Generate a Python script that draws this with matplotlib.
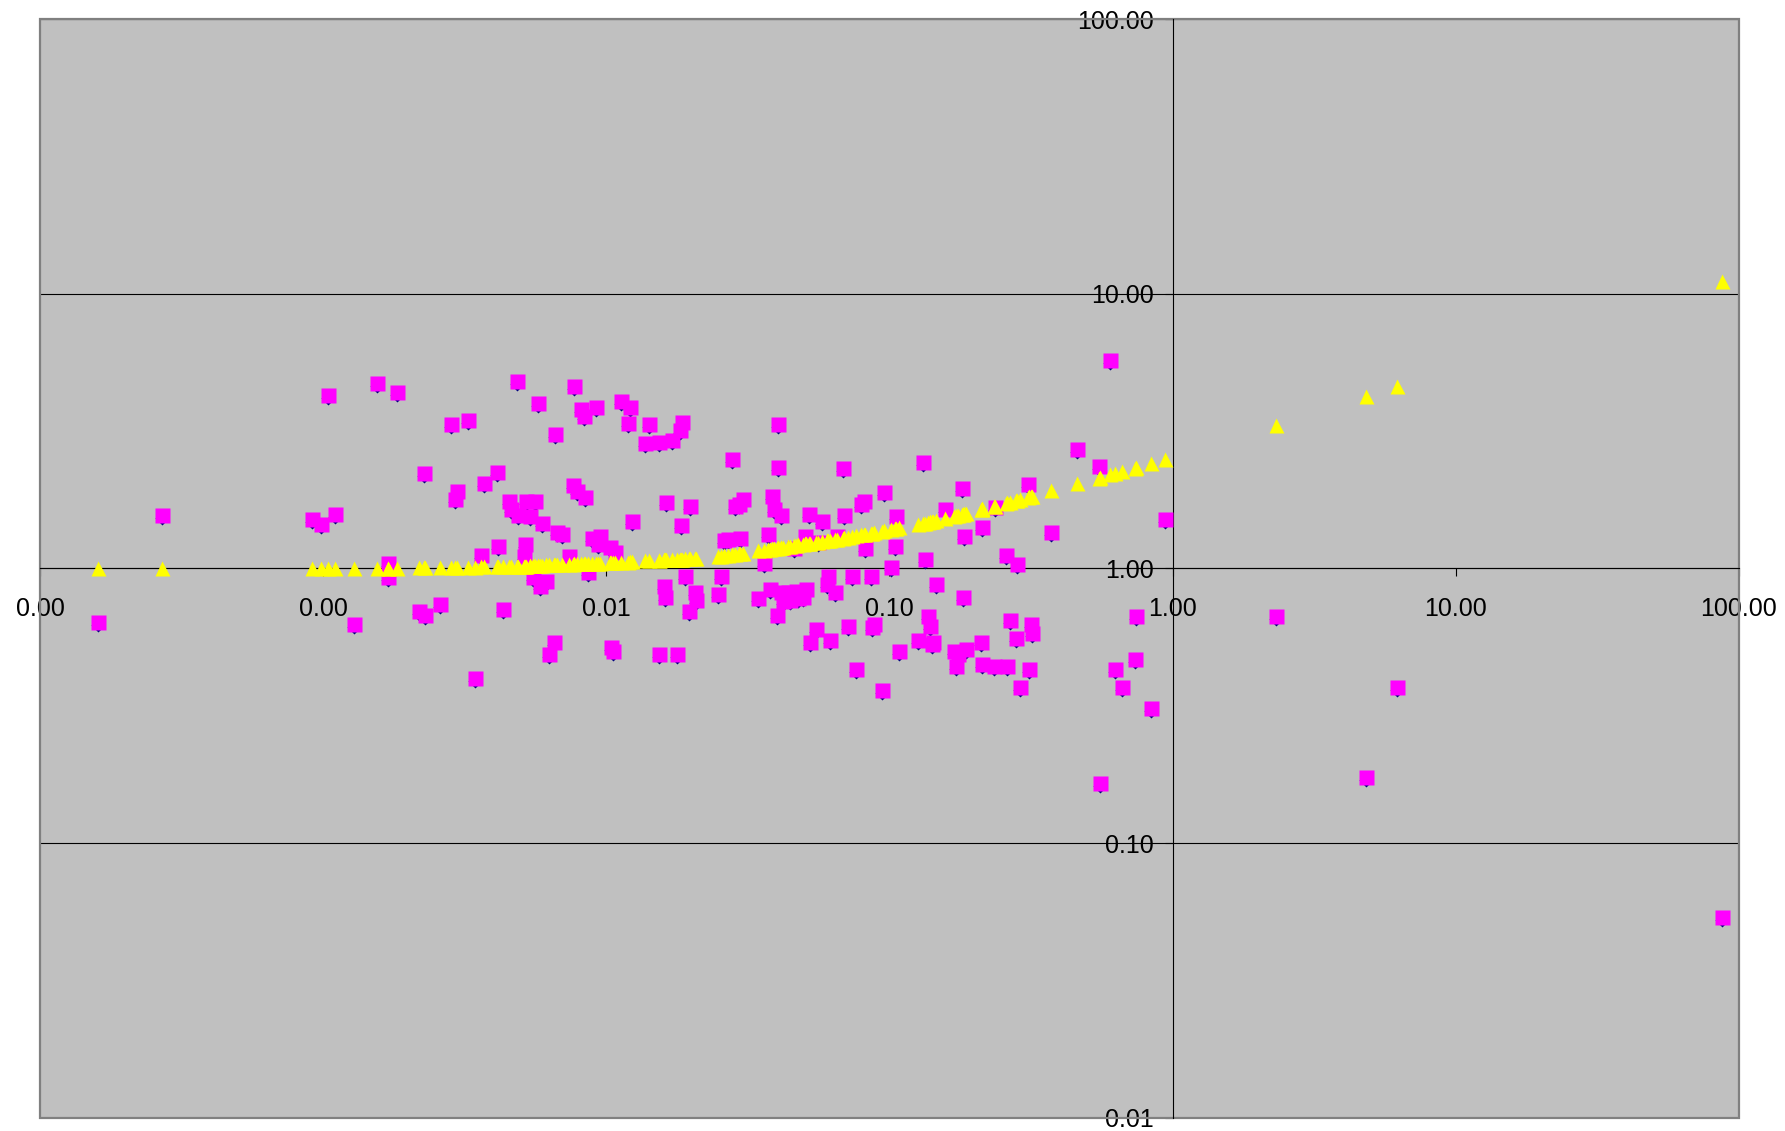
import matplotlib
matplotlib.use("Agg")
import matplotlib.pyplot as plt
from matplotlib.ticker import FixedLocator, FormatStrFormatter, NullLocator
from matplotlib.transforms import ScaledTranslation
from matplotlib.patches import Rectangle

plt.rcParams['font.family'] = ['Liberation Sans', 'DejaVu Sans']

# --- data (x shared by all three series) ---
x_vals = [
    0.00016, 0.00027, 0.00091, 0.00098, 0.00104, 0.00110, 0.00128, 0.00155, 0.00169, 0.00170,
    0.00183, 0.00218, 0.00227, 0.00229, 0.00258, 0.00283, 0.00291, 0.00296, 0.00325, 0.00344,
    0.00360, 0.00370, 0.00410, 0.00414, 0.00430, 0.00454, 0.00462, 0.00484, 0.00489, 0.00512,
    0.00515, 0.00521, 0.00536, 0.00551, 0.00561, 0.00572, 0.00582, 0.00593, 0.00611, 0.00628,
    0.00651, 0.00657, 0.00669, 0.00695, 0.00741, 0.00762, 0.00769, 0.00791, 0.00813, 0.00836,
    0.00844, 0.00859, 0.00891, 0.00917, 0.00934, 0.00951, 0.0103, 0.0104, 0.0106, 0.0107,
    0.0113, 0.0119, 0.0121, 0.0123, 0.0137, 0.0142, 0.0153, 0.0154, 0.0160, 0.0161,
    0.0163, 0.0171, 0.0177, 0.0182, 0.0184, 0.0185, 0.0189, 0.0196, 0.0197, 0.0205,
    0.0207, 0.0247, 0.0254, 0.0261, 0.0268, 0.0278, 0.0284, 0.0294, 0.0297, 0.0303,
    0.0344, 0.0361, 0.0371, 0.0378, 0.0385, 0.0392, 0.0402, 0.0403, 0.0404, 0.0414,
    0.0415, 0.0422, 0.0438, 0.0446, 0.0459, 0.0468, 0.0476, 0.0494, 0.0503, 0.0508,
    0.0518, 0.0522, 0.0552, 0.0557, 0.0578, 0.0600, 0.0606, 0.0617, 0.0640, 0.0652,
    0.0683, 0.0689, 0.0716, 0.0736, 0.0763, 0.0792, 0.0815, 0.0822, 0.0861, 0.0869,
    0.0885, 0.0944, 0.0953, 0.101, 0.1045, 0.1055, 0.1085, 0.126, 0.131, 0.134,
    0.137, 0.139, 0.141, 0.142, 0.146, 0.157, 0.169, 0.172, 0.175, 0.180,
    0.182, 0.184, 0.187, 0.211, 0.212, 0.213, 0.234, 0.236, 0.257, 0.261,
    0.266, 0.279, 0.281, 0.289, 0.309, 0.312, 0.315, 0.318, 0.372, 0.459,
    0.548, 0.553, 0.601, 0.624, 0.665, 0.736, 0.743, 0.839, 0.937, 2.32,
    4.82, 6.19, 87.3,
]

# magenta squares (navy diamonds sit on the same values)
y_measured = [
    0.64, 1.57, 1.52, 1.45, 4.27, 1.58, 0.63, 4.74, 1.05, 0.93,
    4.39, 0.70, 2.23, 0.68, 0.74, 3.36, 1.79, 1.91, 3.46, 0.40,
    1.12, 2.05, 2.25, 1.21, 0.71, 1.76, 1.64, 4.83, 1.57, 1.11,
    1.23, 1.76, 1.55, 0.93, 1.76, 3.99, 0.86, 1.47, 0.90, 0.49,
    0.54, 3.08, 1.36, 1.33, 1.11, 2.01, 4.61, 1.91, 3.80, 3.59,
    1.82, 0.97, 1.29, 3.88, 1.23, 1.31, 1.20, 0.52, 0.50, 1.15,
    4.07, 3.39, 3.88, 1.49, 2.86, 3.36, 2.88, 0.49, 0.86, 0.79,
    1.74, 2.94, 0.49, 3.20, 1.44, 3.42, 0.94, 0.70, 1.69, 0.82,
    0.77, 0.81, 0.94, 1.27, 1.28, 2.50, 1.69, 1.72, 1.29, 1.79,
    0.78, 1.05, 1.33, 0.84, 1.84, 1.64, 0.68, 3.36, 2.34, 1.57,
    0.82, 0.76, 0.82, 0.77, 1.19, 0.83, 0.78, 0.79, 1.31, 0.84,
    1.58, 0.54, 0.60, 1.25, 1.49, 0.88, 0.94, 0.55, 0.82, 1.31,
    2.32, 1.57, 0.62, 0.94, 0.43, 1.72, 1.76, 1.19, 0.94, 0.61,
    0.63, 0.36, 1.90, 1.01, 1.21, 1.55, 0.50, 0.55, 2.45, 1.08,
    0.67, 0.62, 0.53, 0.54, 0.88, 1.64, 0.50, 0.44, 0.49, 1.97,
    0.79, 1.31, 0.51, 0.54, 1.42, 0.45, 0.44, 1.67, 1.12, 0.44,
    0.65, 0.56, 1.04, 0.37, 2.03, 0.43, 0.63, 0.58, 1.36, 2.72,
    2.36, 0.165, 5.74, 0.43, 0.37, 0.47, 0.67, 0.31, 1.51, 0.67,
    0.174, 0.37, 0.054,
]

# yellow triangles
y_model = [
    1.00, 1.00, 1.00, 1.00, 1.00, 1.00, 1.00, 1.00, 1.005, 1.005,
    1.005, 1.01, 1.01, 1.01, 1.01, 1.01, 1.01, 1.015, 1.015, 1.015,
    1.02, 1.02, 1.02, 1.02, 1.02, 1.02, 1.02, 1.025, 1.025, 1.025,
    1.025, 1.025, 1.03, 1.03, 1.03, 1.03, 1.03, 1.03, 1.035, 1.035,
    1.035, 1.035, 1.04, 1.04, 1.04, 1.04, 1.045, 1.045, 1.045, 1.045,
    1.045, 1.05, 1.05, 1.05, 1.05, 1.05, 1.055, 1.055, 1.06, 1.06,
    1.06, 1.06, 1.065, 1.065, 1.07, 1.07, 1.075, 1.075, 1.08, 1.08,
    1.08, 1.08, 1.085, 1.085, 1.085, 1.085, 1.09, 1.09, 1.09, 1.095,
    1.095, 1.11, 1.115, 1.12, 1.12, 1.13, 1.13, 1.135, 1.14, 1.14,
    1.165, 1.17, 1.18, 1.18, 1.185, 1.19, 1.19, 1.195, 1.195, 1.20,
    1.20, 1.20, 1.21, 1.21, 1.22, 1.22, 1.225, 1.23, 1.235, 1.235,
    1.24, 1.24, 1.25, 1.25, 1.26, 1.27, 1.27, 1.275, 1.28, 1.285,
    1.295, 1.30, 1.305, 1.31, 1.32, 1.33, 1.335, 1.34, 1.35, 1.35,
    1.355, 1.37, 1.375, 1.39, 1.40, 1.40, 1.41, 1.45, 1.465, 1.47,
    1.48, 1.485, 1.49, 1.49, 1.50, 1.525, 1.555, 1.56, 1.57, 1.58,
    1.585, 1.59, 1.595, 1.65, 1.65, 1.655, 1.69, 1.695, 1.735, 1.74,
    1.75, 1.775, 1.78, 1.79, 1.825, 1.83, 1.835, 1.84, 1.93, 2.05,
    2.14, 2.15, 2.20, 2.22, 2.26, 2.33, 2.34, 2.42, 2.50, 3.33,
    4.23, 4.60, 11.1,
]

x_ticks = [0.0001, 0.001, 0.01, 0.1, 1, 10, 100]
y_ticks = [0.01, 0.1, 1, 10, 100]

fig = plt.figure(figsize=(17.85, 11.31), dpi=100)
ax = fig.add_axes([0.0224, 0.0115, 0.9518, 0.9717])
ax.set_xscale('log')
ax.set_yscale('log')
ax.set_xlim(x_ticks[0], x_ticks[-1])
ax.set_ylim(y_ticks[0], y_ticks[-1])
ax.set_facecolor('#C0C0C0')
ax.set_axisbelow(True)

ax.xaxis.set_major_locator(FixedLocator(x_ticks))
ax.yaxis.set_major_locator(FixedLocator(y_ticks))
ax.xaxis.set_minor_locator(NullLocator())
ax.yaxis.set_minor_locator(NullLocator())
ax.xaxis.set_major_formatter(FormatStrFormatter('%.2f'))
ax.yaxis.set_major_formatter(FormatStrFormatter('%.2f'))
ax.yaxis.grid(True, color='black', lw=0.8)
ax.xaxis.grid(False)

# Excel-style axes crossing at (1, 1)
ax.spines['left'].set_position(('data', 1))
ax.spines['bottom'].set_position(('data', 1))
for side in ('left', 'bottom'):
    ax.spines[side].set_color('black')
    ax.spines[side].set_linewidth(0.8)
for side in ('top', 'right'):
    ax.spines[side].set_visible(False)

ax.tick_params(axis='x', direction='out', length=5.5, width=0.8, pad=15, labelsize=18)
ax.tick_params(axis='y', direction='out', length=5.5, width=0.8, pad=8, labelsize=18)

# grey plot-area border
ax.add_patch(Rectangle((0, 0), 1, 1, transform=ax.transAxes, fill=False,
                       ec='#808080', lw=1.6, zorder=1.5, clip_on=False))

# navy diamonds peek out just under the squares
shift = ax.transData + ScaledTranslation(0, -3 / 100, fig.dpi_scale_trans)
ax.plot(x_vals, y_measured, ls='none', marker='D', ms=7.6, mfc='#000080',
        mec='none', transform=shift, zorder=3)
ax.plot(x_vals, y_measured, ls='none', marker='s', ms=10.8, mfc='#FF00FF',
        mec='none', zorder=4)
ax.plot(x_vals, y_model, ls='none', marker='^', ms=10.8, mfc='#FFFF00',
        mec='none', zorder=5)

fig.savefig('out.png', dpi=100)
